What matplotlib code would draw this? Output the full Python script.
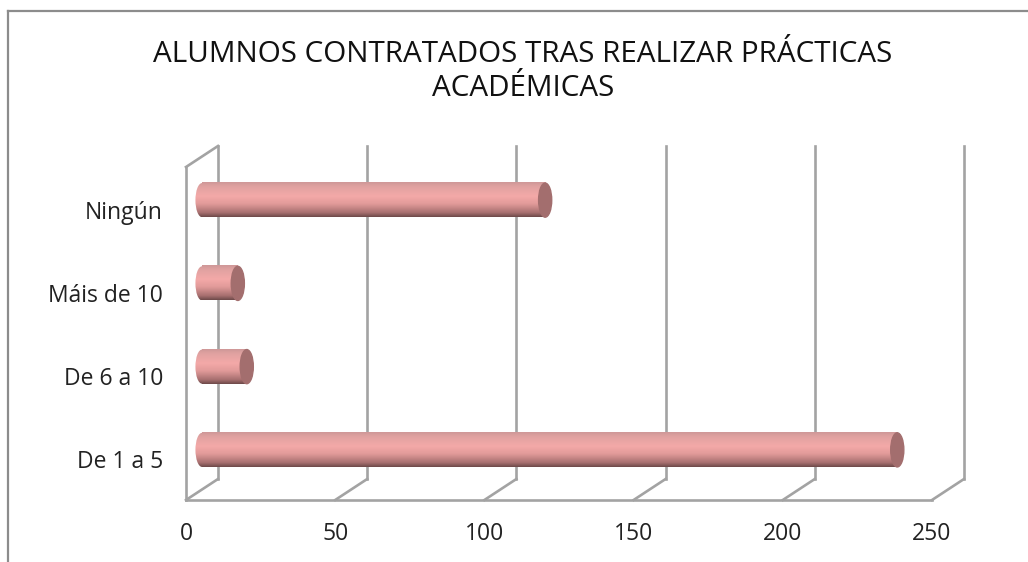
import numpy as np
import matplotlib
matplotlib.use("Agg")
import matplotlib.pyplot as plt
from matplotlib.colors import LinearSegmentedColormap
from matplotlib.patches import Ellipse

categories = ["De 1 a 5", "De 6 a 10", "Máis de 10", "Ningún"]
values = [233, 15, 12, 115]
x_ticks = [0, 50, 100, 150, 200, 250]
title = "ALUMNOS CONTRATADOS TRAS REALIZAR PRÁCTICAS\nACADÉMICAS"

W, H = 1028, 562
plt.rcParams["font.family"] = ["Open Sans", "DejaVu Sans"]
fig = plt.figure(figsize=(W / 100, H / 100), dpi=100)

# front plane of the fake 3d box
left, right, bottom, top = 186, 932, 500, 167
ax = fig.add_axes([left / W, 1 - bottom / H, (right - left) / W, (bottom - top) / H])
ax.set_xlim(0, 250)
ax.set_ylim(-0.5, 3.5)
ax.axis("off")

# depth of the box in data units
dx = 32 / (right - left) * 250
dy = 21 / (bottom - top) * 4
y0, y1 = -0.5, 3.5
grey = "#a3a3a3"
lw = 1.9

# grid, walls and floor
for t in x_ticks:
    ax.plot([t + dx, t + dx], [y0 + dy, y1 + dy], color=grey, lw=lw, clip_on=False)
    ax.plot([t, t + dx], [y0, y0 + dy], color=grey, lw=lw, clip_on=False)
ax.plot([0, 250], [y0, y0], color=grey, lw=lw, clip_on=False)
ax.plot([0, 0], [y0, y1], color=grey, lw=lw, clip_on=False)
ax.plot([0, dx], [y1, y1 + dy], color=grey, lw=lw, clip_on=False)

# cylinders
cmap = LinearSegmentedColormap.from_list("cyl", [(0, "#cf9898"), (0.12, "#e0a2a1"), (0.4, "#f4a9a8"),
                                                 (0.62, "#e29b9a"), (0.88, "#a87070"), (1, "#6f4a4a")])
grad = np.linspace(0, 1, 64).reshape(-1, 1)
bar_h = 0.41
cap_w = 4.4
shift = 2 / (bottom - top) * 4
for i, v in enumerate(values):
    xa, xb = dx / 2, v + dx / 2
    yc = i + dy / 2 - shift
    ax.imshow(grad, cmap=cmap, aspect="auto", origin="upper", zorder=3,
              extent=[xa, xb, yc - bar_h / 2, yc + bar_h / 2])
    start = Ellipse((xa, yc), cap_w, bar_h, fc="none", ec="none", zorder=3)
    ax.add_patch(start)
    im2 = ax.imshow(grad, cmap=cmap, aspect="auto", origin="upper", zorder=3,
                    extent=[xa - cap_w / 2, xa, yc - bar_h / 2, yc + bar_h / 2])
    im2.set_clip_path(start)
    ax.add_patch(Ellipse((xb, yc), cap_w, bar_h, fc="#a36e6e", ec="#a36e6e", lw=1, zorder=4))
ax.set_xlim(0, 250)
ax.set_ylim(-0.5, 3.5)

for i, c in enumerate(categories):
    ax.annotate(c, (0, i), xytext=(-23, -4), textcoords="offset pixels", ha="right", va="center",
                fontsize=16.5, color="#222222", annotation_clip=False)
for t in x_ticks:
    ax.annotate(str(t), (t, y0), xytext=(0, -34), textcoords="offset pixels", ha="center", va="center",
                fontsize=16.5, color="#222222", annotation_clip=False)

fig.text(523 / W, 1 - 71.5 / H, title, ha="center", va="center", fontsize=21.3, color="#111111", linespacing=1.27)

# chart frame, only left and top show in the crop
fig.add_artist(plt.Line2D([8 / W, 8 / W], [0, 1 - 11 / H], color="#8c8c8c", lw=1.6))
fig.add_artist(plt.Line2D([8 / W, 1], [1 - 11 / H, 1 - 11 / H], color="#8c8c8c", lw=1.6))

fig.savefig("out.png", dpi=100)
